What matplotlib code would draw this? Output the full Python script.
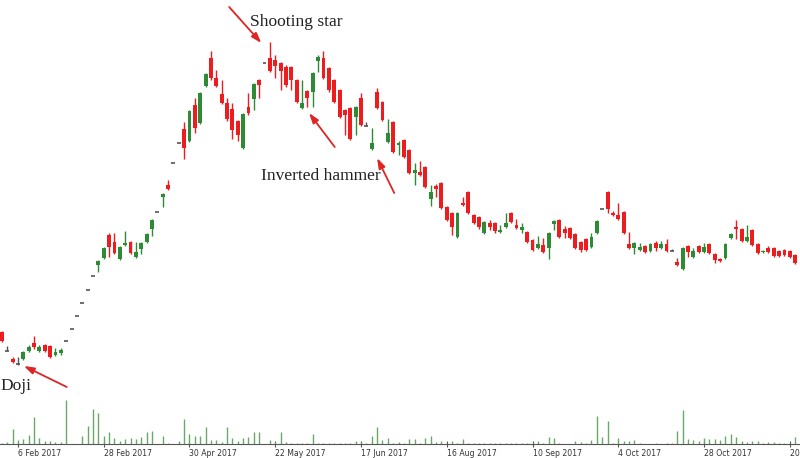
"""
Candlestick chart with volume, annotated patterns (shooting star, inverted hammer, doji).
Output: out.png (800x458)
"""
import matplotlib
matplotlib.use("Agg")
import matplotlib.pyplot as plt
import numpy as np

# OHLC per session (index-based x axis)
open_ = [68, 49, 41, 36, 41, 49, 57, 49, 55, 54, 45, 47, 59, 71, 84, 97, 110, 124,
         135, 142, 165, 158, 141, 155, 158, 143, 151, 158, 171, 188, 203, 215, 237, 257,
         271, 259, 295, 277, 314, 342, 322, 306, 297, 291, 279, 252, 293, 301, 320, 337,
         342, 340, 337, 333, 333, 320, 292, 309, 308, 339, 342, 332, 320, 310, 290, 292,
         283, 302, 274, 251, 308, 298, 258, 278, 255, 260, 250, 227, 228, 233, 201, 214,
         217, 193, 187, 163, 197, 208, 185, 183, 167, 177, 177, 168, 173, 187, 175, 170,
         168, 160, 152, 155, 152, 176, 180, 171, 172, 166, 158, 161, 153, 167, 191, 208,
         187, 185, 188, 156, 152, 150, 154, 149, 157, 152, 156, 149, 138, 131, 154, 143,
         154, 148, 156, 146, 141, 142, 162, 173, 171, 159, 170, 156, 148, 152, 152, 149,
         150, 149, 145]
high = [69, 54, 43, 43, 49, 55, 64, 55, 56, 55, 52, 52, 59, 71, 84, 97, 110, 124,
        140, 153, 167, 167, 154, 169, 159, 158, 158, 167, 181, 188, 207, 220, 237, 257,
        278, 290, 302, 308, 327, 349, 330, 320, 302, 297, 280, 287, 307, 317, 321, 337,
        358, 345, 338, 335, 334, 321, 320, 310, 328, 345, 349, 333, 321, 311, 291, 293,
        294, 307, 278, 272, 312, 299, 281, 279, 259, 261, 251, 237, 239, 234, 215, 216,
        218, 194, 188, 188, 203, 209, 186, 184, 179, 180, 178, 175, 187, 188, 181, 177,
        169, 161, 164, 162, 168, 180, 181, 174, 173, 167, 159, 162, 167, 180, 191, 209,
        189, 197, 189, 168, 158, 157, 155, 157, 159, 159, 161, 151, 142, 153, 155, 152,
        155, 157, 157, 147, 142, 157, 167, 180, 172, 175, 171, 157, 150, 154, 153, 150,
        151, 150, 146]
low = [58, 49, 37, 35, 40, 48, 51, 48, 48, 42, 44, 45, 59, 71, 84, 97, 110, 124,
       128, 141, 143, 146, 140, 154, 146, 142, 146, 157, 164, 188, 193, 210, 237, 257,
       241, 258, 267, 276, 313, 320, 313, 296, 279, 261, 259, 251, 285, 290, 302, 337,
       328, 322, 310, 313, 310, 297, 291, 293, 293, 328, 321, 308, 297, 282, 265, 260,
       265, 274, 274, 250, 291, 279, 257, 247, 245, 242, 226, 215, 224, 212, 194, 203,
       191, 179, 165, 162, 194, 186, 176, 171, 166, 170, 167, 167, 172, 177, 171, 167,
       157, 149, 151, 147, 141, 170, 162, 162, 161, 151, 148, 149, 152, 166, 191, 187,
       184, 180, 166, 151, 146, 149, 147, 148, 149, 151, 148, 149, 134, 130, 143, 142,
       147, 147, 146, 137, 138, 141, 161, 161, 158, 158, 154, 146, 147, 147, 143, 143,
       144, 142, 136]
close = [59, 49, 38, 36, 48, 53, 53, 53, 49, 43, 48, 50, 59, 71, 84, 97, 110, 124,
         139, 152, 153, 147, 153, 157, 147, 148, 157, 166, 180, 188, 206, 211, 237, 257,
         252, 289, 272, 307, 326, 322, 314, 297, 281, 270, 265, 286, 287, 316, 315, 337,
         329, 334, 329, 315, 320, 298, 297, 302, 327, 343, 322, 310, 298, 283, 285, 261,
         293, 275, 274, 257, 292, 280, 267, 248, 257, 243, 227, 230, 225, 213, 208, 211,
         192, 180, 173, 187, 195, 187, 177, 173, 178, 173, 169, 170, 177, 178, 172, 173,
         158, 150, 156, 148, 167, 179, 163, 167, 162, 152, 150, 150, 163, 179, 191, 191,
         185, 181, 167, 152, 157, 153, 148, 156, 152, 156, 149, 149, 135, 152, 148, 149,
         148, 153, 147, 140, 139, 156, 166, 171, 159, 163, 155, 147, 149, 148, 144, 144,
         145, 143, 137]
volume = [1, 2, 15, 4, 5, 9, 27, 6, 3, 3, 2, 2, 44, 0.5, 0.5, 8, 18, 35,
          31, 8, 12, 6, 3, 5, 6, 5, 7, 12, 13, 0, 8, 1, 0, 3,
          25, 10, 8, 8, 17, 4, 4, 2, 17, 6, 3, 6, 7, 12, 12, 0,
          4, 2, 12, 2, 1, 1, 1, 1, 10, 1, 1, 1, 1, 1, 1, 1,
          3, 2, 1, 8, 17, 4, 6, 1, 2, 1, 5, 5, 1, 6, 8, 2,
          3, 0.5, 3, 1, 5, 1, 1, 1, 1, 1, 1, 1, 1, 1, 1, 1,
          1, 1, 3, 1, 7, 6, 1, 0.5, 0.5, 3, 2, 1, 4, 28, 7, 23,
          1, 6, 3, 3, 4, 1, 0.5, 0.5, 1, 0.5, 1, 1, 13, 34, 5, 4,
          3, 6, 5, 5, 4, 8, 10, 7, 3, 2, 3, 3, 1, 2, 2, 1,
          1, 0.5, 7]

tick_idx = list(range(3, 149, 16))
tick_labels = ["6 Feb 2017", "28 Feb 2017", "30 Apr 2017", "22 May 2017", "17 Jun 2017",
               "16 Aug 2017", "10 Sep 2017", "4 Oct 2017", "28 Oct 2017", "20 Nov 2017"]

UP, DOWN, FLAT = "#2e8b35", "#ec1c1f", "#555555"
VOL = "#66aa66"

x = np.arange(len(open_))
o, h, l, c = map(np.array, (open_, high, low, close))
colors = np.where(c > o, UP, np.where(c < o, DOWN, FLAT))

fig = plt.figure(figsize=(8, 4.58), dpi=100)
ax = fig.add_axes([0, 0, 1, 1])
ax.set_xlim(-0.354, 148.9)
ax.set_ylim(-58, 400)
ax.axis("off")

# wicks, bodies, and doji dashes
ax.vlines(x, l, h, colors=colors, linewidth=1)
body = np.abs(c - o)
bottom = np.minimum(o, c)
ax.bar(x[body > 0], body[body > 0], bottom=bottom[body > 0], width=0.72,
       color=colors[body > 0], linewidth=0)
ax.hlines(c[body == 0], x[body == 0] - 0.36, x[body == 0] + 0.36, colors=FLAT, linewidth=1.2)

# annotations
serif = "Liberation Serif"
arrow = dict(arrowstyle="-|>,head_length=0.6,head_width=0.2", color="#e02424",
             lw=1.3, shrinkA=0, shrinkB=0)
ax.text(54.9, 378, "Shooting star", fontsize=12.5, family=serif, ha="center", va="center", color="#222")
ax.annotate("", xy=(48.4, 357), xytext=(42.4, 393), arrowprops=arrow)
ax.text(59.5, 224, "Inverted hammer", fontsize=12.5, family=serif, ha="center", va="center", color="#222")
ax.annotate("", xy=(57.3, 287), xytext=(62.1, 253), arrowprops=arrow)
ax.annotate("", xy=(70.0, 242), xytext=(73.2, 207), arrowprops=arrow)
ax.text(-0.3, 14, "Doji", fontsize=12.5, family=serif, ha="left", va="center", color="#222")
ax.annotate("", xy=(4.1, 34), xytext=(12.1, 13), arrowprops=arrow)

# volume panel
vax = fig.add_axes([0, 14 / 458, 1, 50 / 458])
vax.set_facecolor("none")
vax.set_xlim(-0.354, 148.9)
vax.set_ylim(0, 50)
vax.vlines(x, 0, volume, colors=VOL, linewidth=1)
for s in ("top", "left", "right"):
    vax.spines[s].set_visible(False)
vax.spines["bottom"].set_color("#555555")
vax.spines["bottom"].set_linewidth(0.8)
vax.set_yticks([])
vax.set_xticks(tick_idx)
vax.set_xticklabels(tick_labels, ha="left", fontsize=5.6, color="#333333")
vax.tick_params(axis="x", direction="inout", length=5, width=0.8, color="#555555", pad=1)

fig.savefig("out.png", dpi=100)
plt.close()
print("Saved out.png")
